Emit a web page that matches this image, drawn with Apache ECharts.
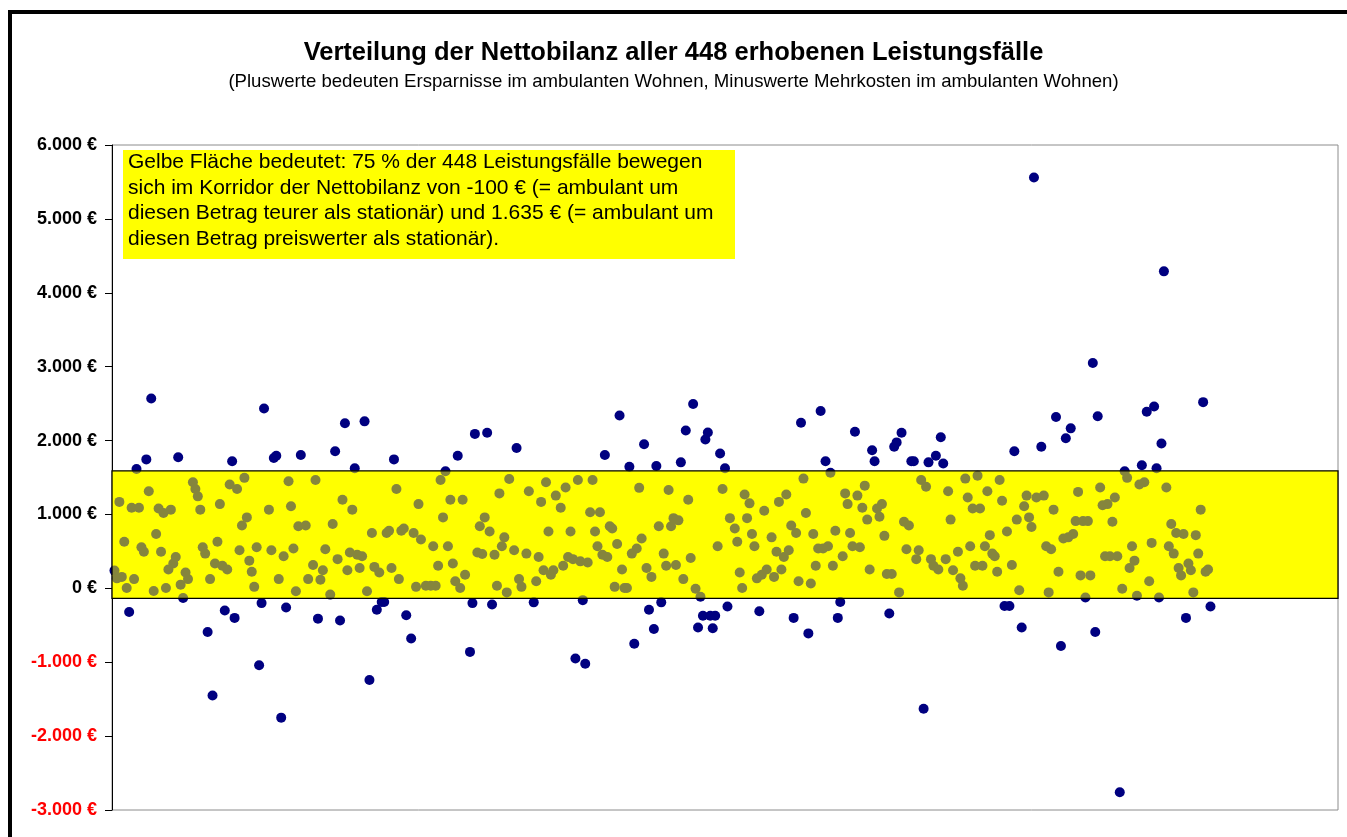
<!DOCTYPE html>
<html><head><meta charset="utf-8">
<script src="https://cdn.jsdelivr.net/npm/echarts@6/dist/echarts.min.js"></script>
<style>html,body{margin:0;padding:0;background:#fff;}#chart{width:1347px;height:837px;}</style>
</head><body><div id="chart"></div>
<script>
const titel = 'Verteilung der Nettobilanz aller 448 erhobenen Leistungsfälle';
const untertitel = '(Pluswerte bedeuten Ersparnisse im ambulanten Wohnen, Minuswerte Mehrkosten im ambulanten Wohnen)';
const hinweis = [
  'Gelbe Fläche bedeutet: 75 % der 448 Leistungsfälle bewegen',
  'sich im Korridor der Nettobilanz von -100 € (= ambulant um',
  'diesen Betrag teurer als stationär) und 1.635 € (= ambulant um',
  'diesen Betrag preiswerter als stationär).'
];
const yTicks = [-3000, -2000, -1000, 0, 1000, 2000, 3000, 4000, 5000, 6000];
const yTickLabels = ['-3.000 €', '-2.000 €', '-1.000 €', '0 €', '1.000 €', '2.000 €', '3.000 €', '4.000 €', '5.000 €', '6.000 €'];
const korridor = [-135, 1590];
// [Fall-Nr., Nettobilanz in €]
const faelle = [
[1,240],[2,135],[3,1170],[4,155],[5,630],[6,5],[7,-320],[8,1090],[9,125],[10,1615],
[11,1090],[12,555],[13,495],[14,1745],[15,1315],[16,2570],[17,-35],[18,735],[19,1080],[20,495],
[21,1020],[22,5],[23,255],[24,1065],[25,335],[26,425],[27,1775],[28,50],[29,-130],[30,215],
[31,125],[33,1435],[34,1345],[35,1245],[36,1065],[37,555],[38,470],[39,-590],[40,125],[41,-1450],
[42,335],[43,630],[44,1140],[45,305],[46,-300],[47,255],[48,1405],[49,1720],[50,-400],[51,1345],
[52,515],[53,850],[54,1495],[55,960],[56,375],[57,225],[58,20],[59,555],[60,-1040],[61,-200],
[62,2435],[64,1065],[65,515],[66,1765],[67,1795],[68,125],[69,-1750],[70,435],[71,-260],[72,1450],
[73,1110],[74,540],[75,-40],[76,840],[77,1805],[79,850],[80,125],[82,315],[83,1465],[84,-410],
[85,115],[86,245],[87,530],[89,-85],[90,870],[91,1855],[92,395],[93,-435],[94,1200],[95,2235],
[96,245],[97,485],[98,1065],[99,1625],[100,455],[101,275],[102,435],[103,2260],[104,-40],[105,-1240],
[106,750],[107,290],[108,-290],[109,215],[110,-185],[111,-185],[112,750],[113,780],[114,275],[115,1745],
[116,1345],[117,125],[118,780],[119,810],[120,-365],[122,-680],[123,750],[124,20],[125,1140],[126,660],
[128,35],[130,35],[131,570],[132,35],[133,305],[134,1465],[135,960],[136,1585],[137,570],[138,1200],
[139,335],[140,95],[141,1795],[142,5],[143,1200],[144,185],[146,-860],[147,-200],[148,2090],[149,485],
[150,840],[151,465],[152,960],[153,2105],[154,770],[155,-220],[156,455],[157,35],[158,1285],[159,570],
[160,690],[161,-55],[162,1480],[164,515],[165,1900],[166,125],[167,20],[169,470],[170,1315],[172,-190],
[173,95],[174,425],[175,1170],[176,245],[177,1435],[178,770],[179,185],[180,245],[181,1255],[183,1090],
[184,305],[185,1365],[186,425],[187,770],[188,395],[189,-950],[190,1465],[191,365],[192,-160],[193,-1020],
[194,350],[195,1030],[196,1465],[197,770],[198,570],[199,1030],[200,455],[201,1805],[202,425],[203,840],
[204,810],[205,20],[206,600],[207,2340],[208,255],[209,5],[210,5],[211,1645],[212,470],[213,-750],
[214,540],[215,1360],[216,675],[217,1950],[218,275],[219,-290],[220,155],[221,-550],[222,1655],[223,840],
[224,-190],[225,470],[226,305],[227,1330],[228,840],[229,950],[230,315],[231,920],[232,1705],[233,125],
[234,2135],[235,1200],[236,410],[237,2495],[238,-5],[239,-530],[240,-115],[241,-370],[242,2015],[243,2110],
[244,-370],[245,-540],[246,-370],[247,570],[248,1825],[249,1345],[250,1625],[251,-245],[252,950],[254,810],
[255,630],[256,215],[257,5],[258,1270],[259,950],[260,1150],[261,735],[262,570],[263,135],[264,-310],
[265,185],[266,1050],[267,255],[269,690],[270,155],[271,495],[272,1170],[273,255],[274,425],[275,1270],
[276,515],[277,850],[278,-400],[279,750],[280,95],[281,2240],[282,1485],[283,1020],[284,-610],[285,65],
[286,735],[287,305],[288,540],[289,2400],[290,540],[291,1720],[292,570],[293,1565],[294,305],[295,780],
[296,-400],[297,-185],[298,435],[299,1285],[300,1140],[301,750],[302,570],[303,2120],[304,1255],[305,555],
[306,1090],[307,1390],[308,930],[309,255],[310,1870],[311,1720],[312,1080],[313,970],[314,1140],[315,710],
[316,195],[317,-340],[318,195],[319,1915],[320,1975],[321,-55],[322,2105],[323,900],[324,530],[325,850],
[326,1720],[327,1720],[328,395],[329,515],[330,1465],[331,-1630],[332,1375],[333,1705],[334,395],[335,305],
[336,1795],[337,255],[338,2045],[339,1690],[340,395],[341,1315],[342,930],[343,245],[345,495],[346,135],
[347,35],[348,1485],[349,1230],[350,570],[351,1080],[352,305],[353,1525],[354,1080],[355,305],[356,570],
[357,1315],[358,720],[359,470],[360,435],[361,225],[362,1465],[363,1185],[364,-240],[365,770],[366,-240],
[367,315],[368,1855],[369,930],[370,-25],[371,-530],[372,1110],[373,1255],[374,960],[375,830],[376,5560],
[377,1230],[379,1915],[380,1255],[381,570],[382,-55],[383,530],[384,1065],[385,2320],[386,225],[387,-780],
[388,675],[389,2030],[390,690],[391,2165],[392,735],[393,910],[394,1305],[395,175],[396,910],[397,-125],
[398,910],[399,175],[400,3050],[401,-590],[402,2330],[403,1365],[404,1125],[405,435],[406,1140],[407,435],
[408,900],[409,1230],[410,435],[411,-2760],[412,-5],[413,1585],[414,1495],[415,275],[416,570],[417,375],
[418,-100],[419,1405],[420,1665],[421,1435],[422,2390],[423,95],[424,615],[425,2460],[426,1625],[427,-125],
[428,1960],[429,4290],[430,1365],[431,570],[432,870],[433,470],[434,750],[435,275],[436,175],[437,735],
[438,-400],[439,335],[440,245],[441,-55],[442,720],[443,470],[444,1065],[445,2520],[446,225],[447,255],
[448,-245]
];

const chart = echarts.init(document.getElementById('chart'), null, {renderer: 'canvas'});
function bandRenderer(fill, stroke) {
  return function (params, api) {
    const p1 = api.coord([0, korridor[1]]);
    const p2 = api.coord([500, korridor[0]]);
    return {
      type: 'rect',
      shape: {x: p1[0], y: p1[1], width: p2[0] - p1[0], height: p2[1] - p1[1]},
      style: {fill: fill, stroke: stroke || null, lineWidth: stroke ? 1.3 : 0}
    };
  };
}
const FONT = '"Liberation Sans", Arial, sans-serif';
const option = {
  animation: false,
  backgroundColor: '#fff',
  title: [
    {text: titel, left: 'center', top: 35,
     textStyle: {fontFamily: FONT, fontWeight: 'bold', fontSize: 25.5, color: '#000'}},
    {text: untertitel, left: 'center', top: 67,
     textStyle: {fontFamily: FONT, fontWeight: 'normal', fontSize: 18.6, color: '#000'}}
  ],
  grid: {left: 112, right: 9, top: 145, bottom: 27, show: true, borderColor: '#8c8c8c', borderWidth: 1, backgroundColor: '#fff'},
  xAxis: {type: 'value', min: 0, max: 500, show: false},
  yAxis: {
    type: 'value', min: -3000, max: 6000, interval: 1000,
    axisLine: {show: true, onZero: false, lineStyle: {color: '#000', width: 1}},
    axisTick: {show: true, length: 7, lineStyle: {color: '#000'}},
    splitLine: {show: false},
    axisLabel: {
      margin: 15, fontFamily: FONT, fontWeight: 'bold', fontSize: 18,
      color: function (v) { return v < 0 ? '#ff0000' : '#000000'; },
      formatter: function (v) { const i = yTicks.indexOf(v); return i >= 0 ? yTickLabels[i] : ''; }
    }
  },
  series: [
    {type: 'custom', data: [[0, 0]], renderItem: bandRenderer('#ffff00', null), z: 1, silent: true},
    {type: 'scatter', data: faelle, symbol: 'circle', symbolSize: 10, itemStyle: {color: '#000080', opacity: 1}, z: 2},
    {type: 'custom', data: [[0, 0]], renderItem: bandRenderer('rgba(255,255,0,0.52)', '#000'), z: 3, silent: true}
  ],
  graphic: [
    {type: 'group', left: 123, top: 150, z: 50, children: [
      {type: 'rect', shape: {x: 0, y: 0, width: 612, height: 109}, style: {fill: '#ffff00'}},
      {type: 'text', x: 5, y: 0, style: {text: hinweis.join('\n'), font: '21px ' + FONT, fill: '#000', lineHeight: 25.4}}
    ]},
    {type: 'rect', z: 100, shape: {x: 10, y: 12, width: 1400, height: 900}, style: {fill: 'transparent', stroke: '#000', lineWidth: 4}}
  ]
};
chart.setOption(option);
</script>
</body></html>
